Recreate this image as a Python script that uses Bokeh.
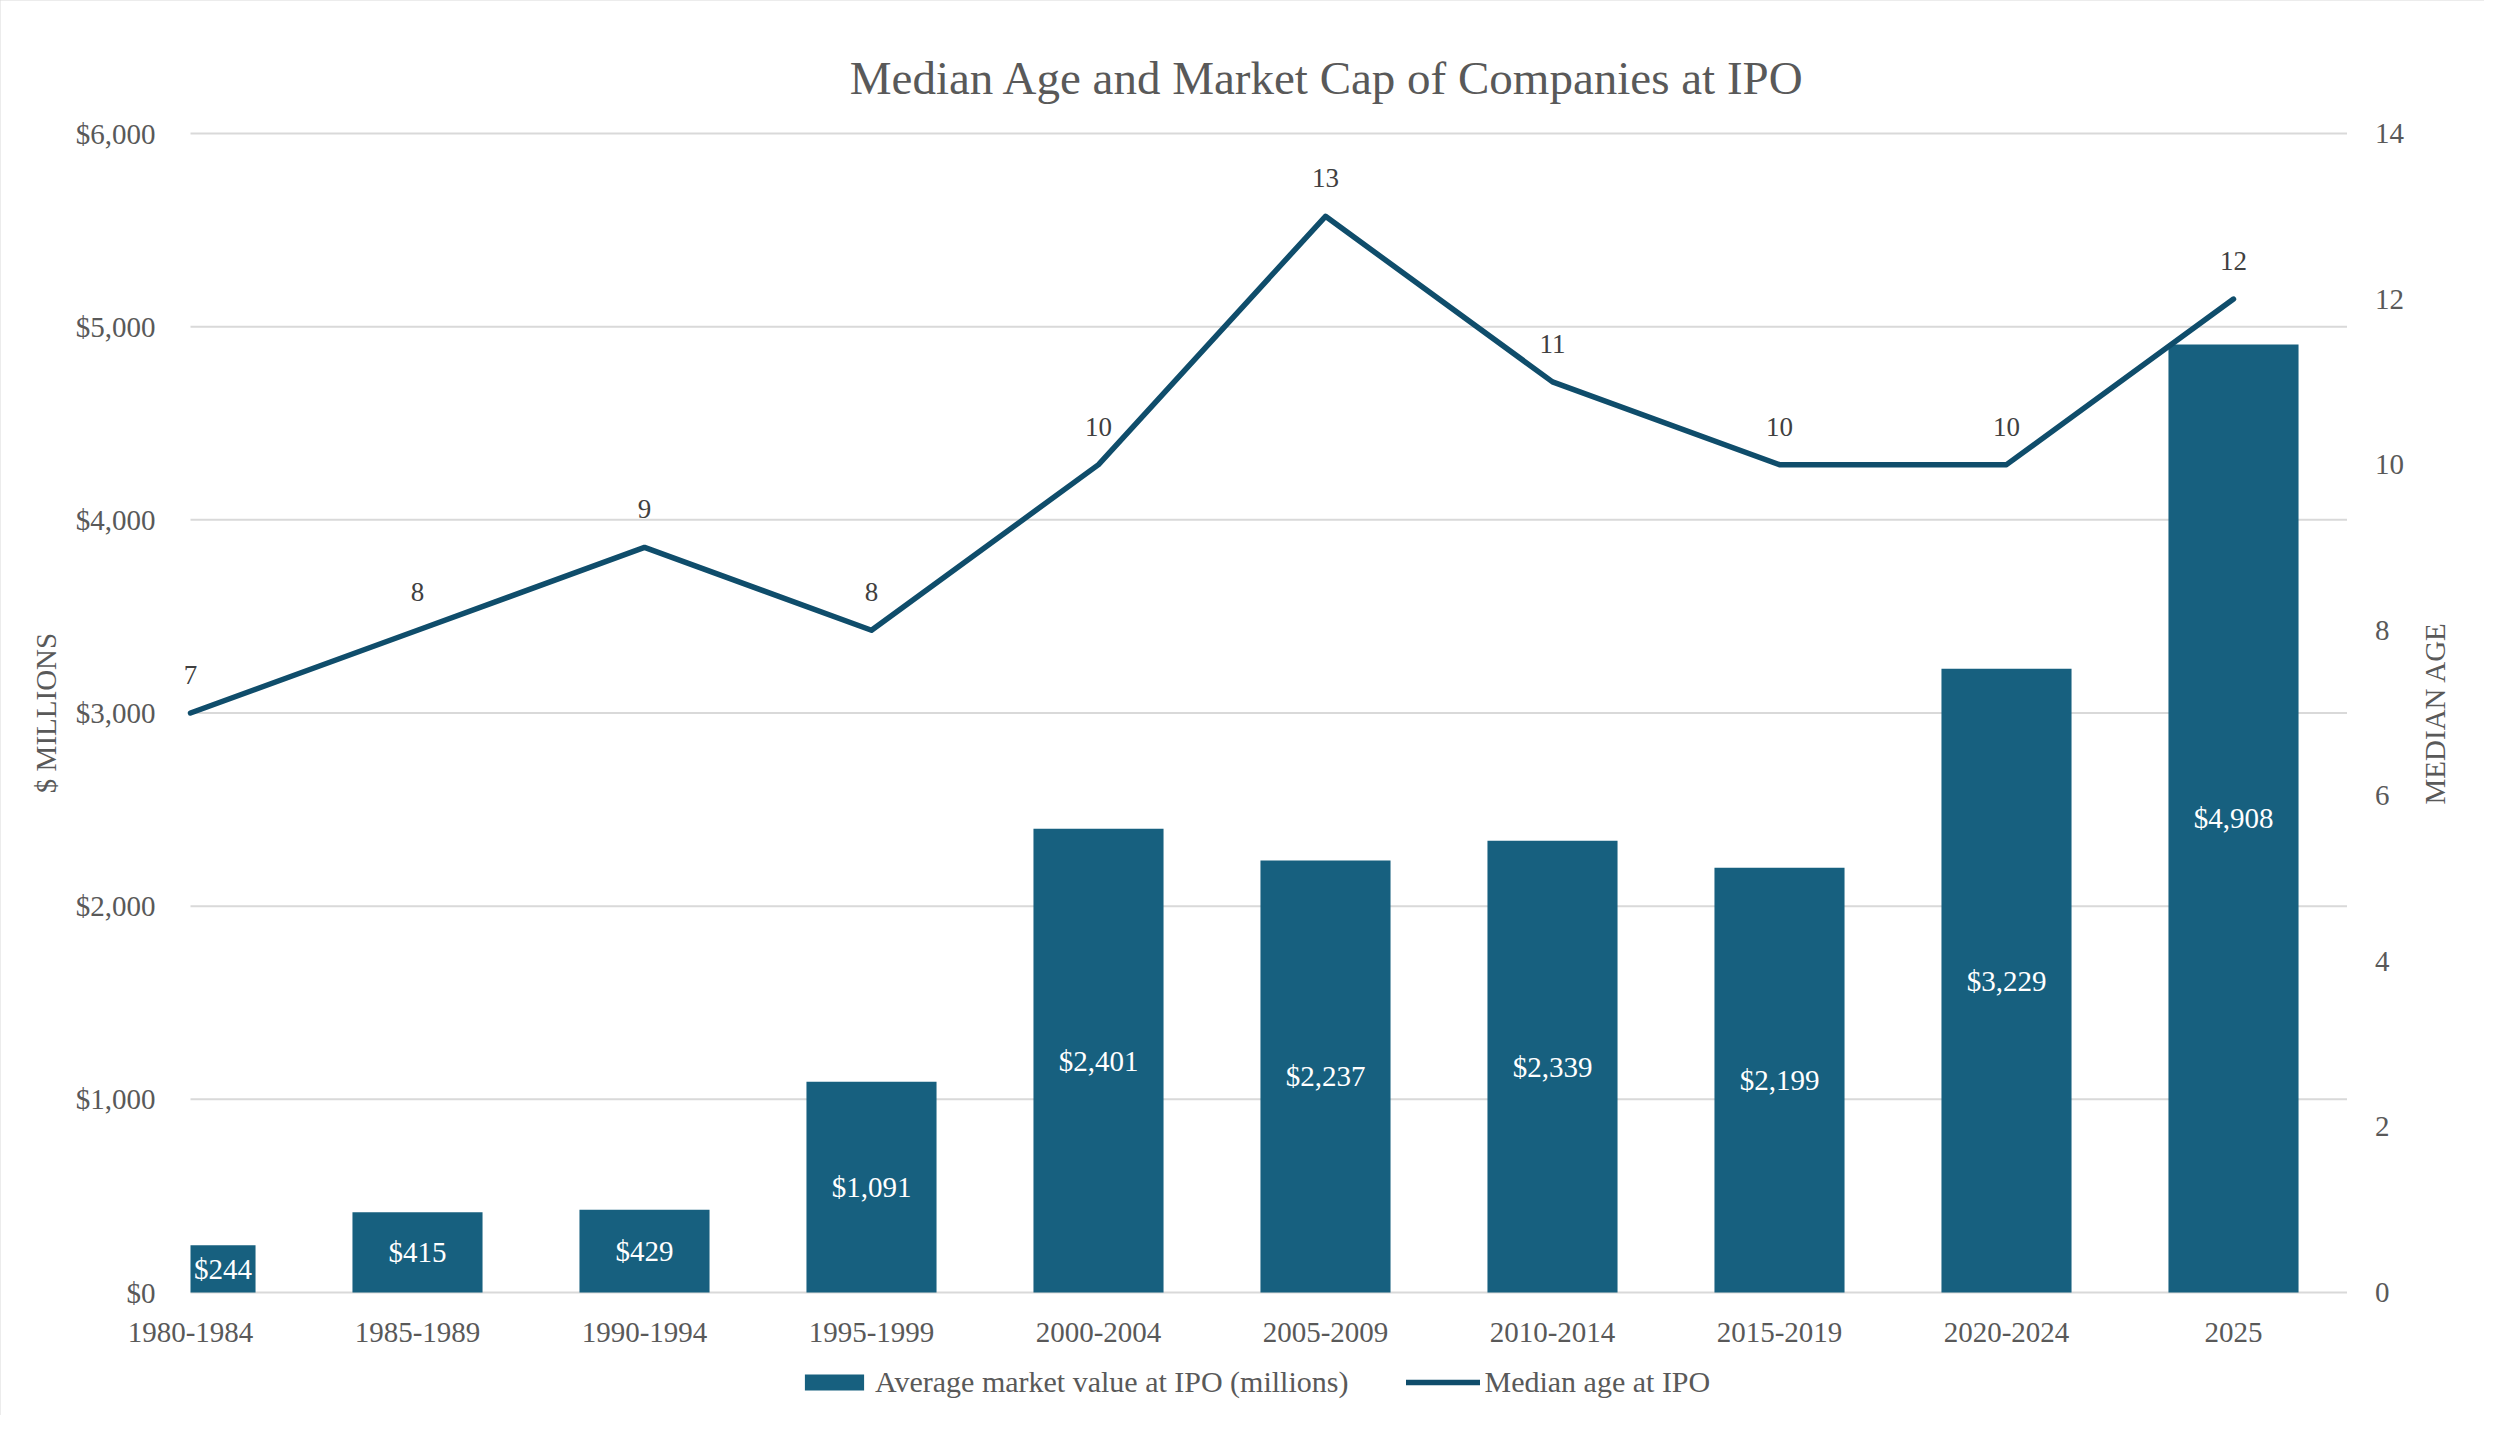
import math
from bokeh.plotting import figure
from bokeh.models import Range1d, Legend, LegendItem, ColumnDataSource
from bokeh.core.properties import value
from bokeh.embed import file_html
from bokeh.resources import INLINE

# ---------------- data ----------------
periods = ["1980-1984", "1985-1989", "1990-1994", "1995-1999", "2000-2004",
           "2005-2009", "2010-2014", "2015-2019", "2020-2024", "2025"]
market_value = [244, 415, 429, 1091, 2401, 2237, 2339, 2199, 3229, 4908]
median_age = [7, 8, 9, 8, 10, 13, 11, 10, 10, 12]
value_ticks = [0, 1000, 2000, 3000, 4000, 5000, 6000]
age_ticks = [0, 2, 4, 6, 8, 10, 12, 14]

title_text = "Median Age and Market Cap of Companies at IPO"
left_label = "$ MILLIONS"
right_label = "MEDIAN AGE"
bar_name = "Average market value at IPO (millions)"
line_name = "Median age at IPO"

# ---------------- style / layout ----------------
FONT = "Liberation Serif"
BAR_COLOR = "#17607f"
LINE_COLOR = "#0f4d6b"
TEXT_GRAY = "#595959"
LABEL_DARK = "#404040"
GRID = "#d9d9d9"
TICK_SIZE = "29px"

W, H = 2484, 1415
PX_X0 = 190      # pixel column of the first category centre
PX_STEP = 227    # pixels per category
PX_Y0 = 1292     # pixel row of value 0
PX_YTOP = 133    # pixel row of the top tick
BAR_W = 0.573

n = len(periods)
x_pos = list(range(n))
x_start, x_end = 0, n - 0.5
v_max, a_max = value_ticks[-1], age_ticks[-1]
v_pp = v_max / (PX_Y0 - PX_YTOP)
a_pp = a_max / (PX_Y0 - PX_YTOP)

bar_left = [max(x - BAR_W / 2, x_start) for x in x_pos]
bar_right = [x + BAR_W / 2 for x in x_pos]
bar_labels = ["${:,}".format(v) for v in market_value]
bar_label_y = [v / 2 for v in market_value]
bar_label_x = [(l + r) / 2 for l, r in zip(bar_left, bar_right)]
age_labels = [str(a) for a in median_age]

src = ColumnDataSource(dict(x=x_pos, top=market_value, left=bar_left, right=bar_right,
                            lx=bar_label_x, ly=bar_label_y, blab=bar_labels,
                            age=median_age, alab=age_labels, cat=periods,
                            zero=[0] * n))

p = figure(width=W, height=H, output_backend="svg", toolbar_location=None,
           x_range=Range1d(-PX_X0 / PX_STEP, (W - PX_X0) / PX_STEP),
           y_range=Range1d(-(H - PX_Y0) * v_pp, v_max + PX_YTOP * v_pp),
           x_axis_location=None, y_axis_location=None, min_border=0)
p.extra_y_ranges = {"age": Range1d(-(H - PX_Y0) * a_pp, a_max + PX_YTOP * a_pp)}
p.outline_line_color = None
p.background_fill_color = "white"
p.border_fill_color = "white"
p.xgrid.visible = False
p.ygrid.visible = False
p.styles = {"outline": "2px solid #d9d9d9", "outline-offset": "-2px"}

def txt(**kw):
    kw.setdefault("text_font", value(FONT))
    kw.setdefault("text_font_size", TICK_SIZE)
    kw.setdefault("text_color", TEXT_GRAY)
    kw.setdefault("text_baseline", "middle")
    kw.setdefault("text_align", "center")
    return p.text(**kw)

# gridlines across the plot area
p.segment(x0=[x_start] * len(value_ticks), x1=[x_end] * len(value_ticks),
          y0=value_ticks, y1=value_ticks, line_color=GRID, line_width=2)

# bars (first one cut at the plot edge, as in the source chart)
bars = p.quad(left="left", right="right", bottom="zero", top="top", source=src,
              fill_color=BAR_COLOR, line_color=None)
txt(x="lx", y="ly", text="blab", source=src, text_color="white")

# line
line = p.line(x="x", y="age", source=src, y_range_name="age", line_color=LINE_COLOR,
              line_width=5.5, line_cap="round", line_join="round")
txt(x="x", y="age", text="alab", source=src, y_range_name="age", y_offset=-38,
    text_color=LABEL_DARK, text_font_size="27px")

# category labels
txt(x="x", y="zero", text="cat", source=src, y_offset=40)

# left value ticks
txt(x=[x_start] * len(value_ticks), y=value_ticks,
    text=["${:,}".format(t) for t in value_ticks], x_offset=-35, text_align="right")
# right age ticks
txt(x=[x_end] * len(age_ticks), y=age_ticks, y_range_name="age",
    text=[str(t) for t in age_ticks], x_offset=28, text_align="left")

# axis titles (both read bottom-to-top)
txt(x=[x_start], y=[v_max / 2], text=[left_label], x_offset=-145, angle=math.pi / 2)
txt(x=[x_end], y=[a_max / 2], y_range_name="age", text=[right_label], x_offset=88,
    angle=math.pi / 2)

# chart title
txt(x=[x_start], y=[v_max], text=[title_text], x_offset=1137, y_offset=-56,
    text_font_size="47px")

# legend
legend = Legend(items=[LegendItem(label=bar_name, renderers=[bars]),
                       LegendItem(label=line_name, renderers=[line])],
                orientation="horizontal", location=(797, 16),
                label_text_font=FONT, label_text_font_size="30px",
                label_text_color=TEXT_GRAY, glyph_width=74, glyph_height=20,
                label_standoff=4, spacing=58, padding=0, margin=0,
                border_line_color=None, background_fill_alpha=0)
p.add_layout(legend, "center")

open("out.html", "w").write(file_html(p, INLINE))
